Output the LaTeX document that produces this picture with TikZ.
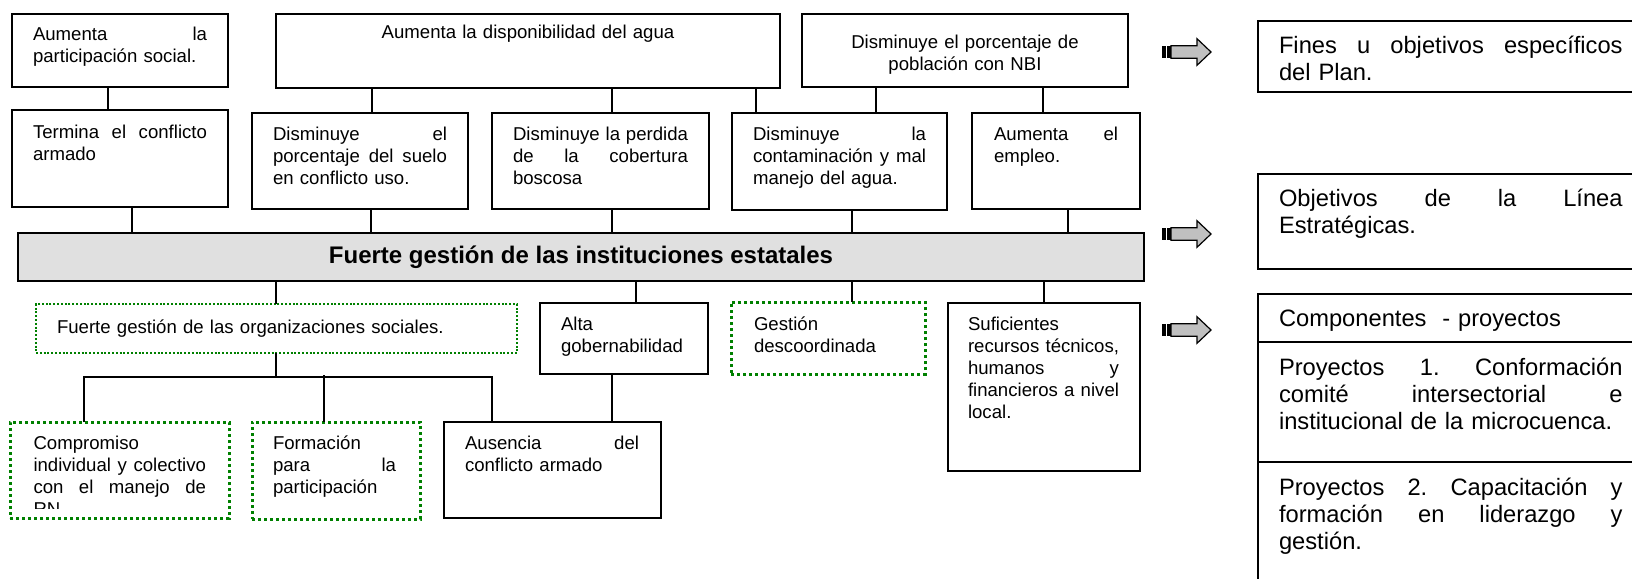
\documentclass[tikz,border=0pt]{standalone}
\usepackage{fontspec}
\setmainfont{Liberation Sans}
\definecolor{dgreen}{RGB}{0,128,0}
\definecolor{bargray}{RGB}{224,224,224}
\definecolor{arrgray}{RGB}{192,192,192}
\newcommand\jl[2]{\leavevmode\hbox to #1{#2}}
\hyphenpenalty=10000
\exhyphenpenalty=10000
\hbadness=10000
\hfuzz=8pt
\tikzset{
  bx/.style={draw, line width=0.9pt, inner sep=0pt, outer sep=0pt},
  dotbox/.style={draw=dgreen, line width=1.5pt, dash pattern=on 1.7pt off 1.3pt, inner sep=0pt, outer sep=0pt},
  thindot/.style={draw=dgreen, line width=0.8pt, dash pattern=on 1pt off 0.9pt, inner sep=0pt, outer sep=0pt},
  barbox/.style={draw, line width=0.9pt, fill=bargray, inner sep=0pt, outer sep=0pt, font=\bfseries\fontsize{12}{14}\selectfont},
  conn/.style={line width=0.9pt},
  tl/.style={anchor=base west, inner sep=0pt, outer sep=0pt, text width=#1, align=left, font=\frenchspacing\fontsize{9.3}{11}\selectfont},
  tc/.style={anchor=base, inner sep=0pt, outer sep=0pt, text width=#1, align=center, font=\frenchspacing\fontsize{9.3}{11}\selectfont},
  tr/.style={anchor=base west, inner sep=0pt, outer sep=0pt, text width=171.8pt, align=left, font=\frenchspacing\fontsize{11.85}{13.5}\selectfont},
  arrbody/.style={fill=arrgray, draw=black, line width=0.6pt},
}
\newcommand\mybox[6][bx]{\node[#1, anchor=north west, minimum width={(#5-#3)*0.5pt}, minimum height={(#6-#4)*0.5pt}] (#2) at (#3,#4) {};}
\newcommand\stripearrow[1]{%
  \fill[black] (1162,#1-6.3) rectangle (1165.6,#1+6.3);
  \fill[black] (1167,#1-6.3) rectangle (1170.6,#1+6.3);
  \filldraw[arrbody] (1171,#1-6.3) -- (1197,#1-6.3) -- (1197,#1-13.3) -- (1211,#1) -- (1197,#1+13.3) -- (1197,#1+6.3) -- (1171,#1+6.3) -- cycle;
}
\begin{document}
\frenchspacing
\begin{tikzpicture}[x=0.5pt, y=-0.5pt]
\useasboundingbox (0,0) rectangle (1632,578);
\clip (0,0) rectangle (1632,578);

% top row
\mybox{A1}{12}{14}{228}{87}
\mybox{A2}{276}{14}{780}{88}
\mybox{A3}{802}{14}{1128}{87}
% second row
\mybox{B1}{12}{110}{228}{207}
\mybox{B2}{252}{113}{468}{209}
\mybox{B3}{492}{113}{709}{209}
\mybox{B4}{732}{113}{947}{210}
\mybox{B5}{972}{113}{1140}{209}
% bar
\node[barbox, anchor=north west, minimum width=563pt, minimum height=24pt] (bar) at (18,233) {Fuerte gestión de las instituciones estatales};
% lower boxes
\mybox[thindot]{org}{36}{304}{517}{353}
\mybox{alta}{540}{303}{708}{374}
\mybox[dotbox]{gest}{731}{302}{925}{374}
\mybox{suf}{948}{303}{1140}{471}
\mybox[dotbox]{comp}{10}{422}{229}{518}
\mybox[dotbox]{form}{252}{422}{420}{519}
\mybox{aus}{444}{422}{661}{518}
% right column
\mybox{fines}{1258}{21}{1650}{92}
\mybox{obj}{1258}{174}{1650}{269}
\mybox{r1}{1258}{294}{1650}{342}
\mybox{r2}{1258}{342}{1650}{462}
\mybox{r3}{1258}{462}{1650}{620}

% connectors
\draw[conn] (A1.south -| 108,0) -- (B1.north -| 108,0);
\draw[conn] (A2.south -| 372,0) -- (B2.north -| 372,0);
\draw[conn] (A2.south -| 612,0) -- (B3.north -| 612,0);
\draw[conn] (A2.south -| 756,0) -- (B4.north -| 756,0);
\draw[conn] (A3.south -| 876,0) -- (B4.north -| 876,0);
\draw[conn] (A3.south -| 1043,0) -- (B5.north -| 1043,0);
\draw[conn] (B1.south -| 132,0) -- (bar.north -| 132,0);
\draw[conn] (B2.south -| 371,0) -- (bar.north -| 371,0);
\draw[conn] (B3.south -| 612,0) -- (bar.north -| 612,0);
\draw[conn] (B4.south -| 852,0) -- (bar.north -| 852,0);
\draw[conn] (B5.south -| 1068,0) -- (bar.north -| 1068,0);
\draw[conn] (bar.south -| 276,0) -- (org.north -| 276,0);
\draw[conn] (bar.south -| 636,0) -- (alta.north -| 636,0);
\draw[conn] (bar.south -| 852,0) -- (gest.north -| 852,0);
\draw[conn] (bar.south -| 1044,0) -- (suf.north -| 1044,0);
\coordinate (hj) at (276,377);
\coordinate (hf) at (324,375);
\draw[conn] (org.south -| hj) -- (hj);
\draw[conn] (comp.north -| 84,0) |- (hj) -| (aus.north -| 492,0);
\draw[conn] (hf) -- (form.north -| hf);
\draw[conn] (alta.south -| 612,0) -- (aus.north -| 612,0);

% arrows
\stripearrow{52}
\stripearrow{234}
\stripearrow{330}

% texts left
\node[tl=87pt] (A1t) at (33,40.5) {\jl{87pt}{Aumenta\hfill la}\\ participación social.};
\node[tc=250pt] (A2t) at (528,38.5) {Aumenta la disponibilidad del agua};
\node[tc=160pt] (A3t) at (965,48) {Disminuye el porcentaje de\\ población con NBI};
\node[tl=87pt] (B1t) at (33,138) {\jl{87pt}{Termina\hfill el\hfill conflicto}\\ armado};
\node[tl=87pt] (B2t) at (273,140.5) {\jl{87pt}{Disminuye\hfill el}\\ \jl{87pt}{porcentaje\hfill del\hfill suelo}\\ en conflicto uso.};
\node[tl=87.5pt] (B3t) at (513,140.5) {\jl{87.5pt}{Disminuye\hfill la\hfill perdida}\\ \jl{87.5pt}{de\hfill la\hfill cobertura}\\ boscosa};
\node[tl=86.5pt] (B4t) at (753,140.5) {\jl{86.5pt}{Disminuye\hfill la}\\ \jl{86.5pt}{contaminación\hfill y\hfill mal}\\ manejo del agua.};
\node[tl=62pt] (B5t) at (994,140.5) {\jl{62pt}{Aumenta\hfill el}\\ empleo.};
\node[tl=200pt] (orgt) at (57,333) {Fuerte gestión de las organizaciones sociales.};
\node[tl=70pt] (altat) at (561,330) {Alta\\ gobernabilidad};
\node[tl=80pt] (gestt) at (754,330) {Gestión\\ descoordinada};
\node[tl=75.5pt] (suft) at (968,330.5) {Suficientes\\ \jl{75.5pt}{recursos\hfill técnicos,}\\ \jl{75.5pt}{humanos\hfill y}\\ \jl{75.5pt}{financieros\hfill a\hfill nivel}\\ local.};
\begin{scope}
\clip (comp.north west) rectangle (229,508.3);
\node[tl=86.25pt] (compt) at (33.5,449.5) {Compromiso\\ \jl{86.25pt}{individual\hfill y\hfill colectivo}\\ \jl{86.25pt}{con\hfill el\hfill manejo\hfill de}\\ RN};
\end{scope}
\node[tl=61.5pt] (formt) at (273,449.5) {Formación\\ \jl{61.5pt}{para\hfill la}\\ participación};
\node[tl=87pt] (aust) at (465,449.5) {\jl{87pt}{Ausencia\hfill del}\\ conflicto armado};

% texts right
\node[tr] (finest) at (1279,53.3) {\jl{171.8pt}{Fines\hfill u\hfill objetivos\hfill específicos}\\ del Plan.};
\node[tr] (objt) at (1279,206) {\jl{171.8pt}{Objetivos\hfill de\hfill la\hfill Línea}\\ Estratégicas.};
\node[tr] (r1t) at (1279,326.7) {Componentes\ \ -\ proyectos};
\node[tr] (r2t) at (1279,375) {\jl{171.8pt}{Proyectos\hfill 1.\hfill Conformación}\\ \jl{171.8pt}{comité\hfill intersectorial\hfill e}\\ institucional de la microcuenca.};
\node[tr] (r3t) at (1279,495) {\jl{171.8pt}{Proyectos\hfill 2.\hfill Capacitación\hfill y}\\ \jl{171.8pt}{formación\hfill en\hfill liderazgo\hfill y}\\ gestión.};
\end{tikzpicture}
\end{document}
